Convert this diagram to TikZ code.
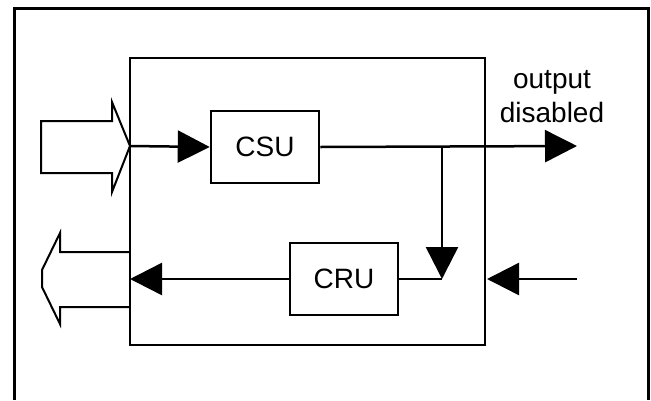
\documentclass[tikz,border=0pt]{standalone}
\usepackage{fontspec}
\setmainfont{Liberation Sans}
\usetikzlibrary{arrows.meta}

\tikzset{
  unitbox/.style={draw, line width=2.5pt, inner sep=0pt},
  sig/.style={line width=2.5pt, -{Triangle[length=32pt, width=32pt]}},
  wire/.style={line width=2.5pt},
  hollow/.style={line width=2pt, line join=miter}
}

\begin{document}
\begin{tikzpicture}[x=1pt, y=-1pt, font=\fontsize{28}{34}\selectfont]
  \useasboundingbox (0,0) rectangle (651,400);
  % outer frame, open at the bottom
  \draw[line width=3pt] (14,400) -- (14,8) -- (648,8) -- (648,400);

  \node[unitbox, minimum width=355pt, minimum height=287pt] at (307.5, 201.5) (unit) {};
  \node[unitbox, minimum width=108pt, minimum height=72pt] at (265, 147) (csu) {CSU};
  \node[unitbox, minimum width=108pt, minimum height=72pt] at (344, 279) (cru) {CRU};
  \node[align=center, inner sep=0pt] at (552, 97) (label) {output\\disabled};

  \coordinate (inport)  at (130, 146);
  \coordinate (split)   at (442, 146);
  \coordinate (merge)   at (442, 279);
  \coordinate (outend)  at (577, 146);
  \coordinate (retport) at (130, 279);
  \coordinate (retend)  at (577, 279);
  \coordinate (retin)   at (487, 279);

  % hollow bus arrows on the left
  \draw[hollow] (41,121) -- (112,121) -- (112,102) -- (inport)
    -- (112,192) -- (112,173) -- (41,173) -- cycle;
  \draw[hollow] (130,252) -- (60,252) -- (60,233) -- (42,270)
    -- (42,287) -- (60,324) -- (60,307) -- (130,307);

  \draw[sig] (inport) -- (csu.west);
  \draw[sig] (csu.east) -- (outend);
  \draw[sig] (split) -- (merge);
  \draw[wire] (cru.east) -- (merge);
  \draw[sig] (cru.west) -- (retport);
  \draw[sig] (retend) -- (retin);
\end{tikzpicture}
\end{document}
